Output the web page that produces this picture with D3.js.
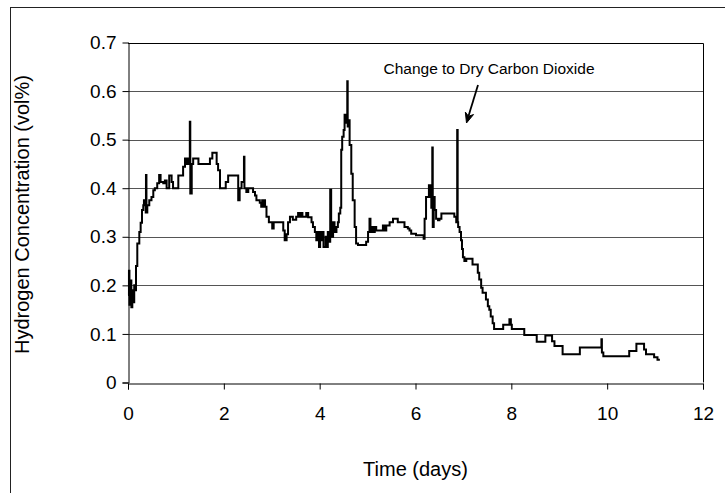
<!DOCTYPE html>
<html>
<head>
<meta charset="utf-8">
<script src="https://cdn.jsdelivr.net/npm/d3@7"></script>
<style>
  html, body { margin: 0; padding: 0; background: #fff; }
  svg { display: block; font-family: "Liberation Sans", Arial, sans-serif; }
</style>
</head>
<body>
<svg id="chart" width="725" height="493"></svg>
<script>
// Elapsed time of each reading (days)
const days = [
  0.00, 0.02, 0.03, 0.05, 0.07, 0.09, 0.11, 0.13, 0.15, 0.167, 0.194, 0.236, 0.264, 0.292, 0.319, 0.333,
  0.37, 0.375, 0.385, 0.403, 0.444, 0.49, 0.528, 0.56, 0.61, 0.65, 0.68, 0.736, 0.77, 0.806, 0.86, 0.91,
  0.94, 1.05, 1.15, 1.19, 1.22, 1.26, 1.29, 1.30, 1.33, 1.36, 1.47, 1.71, 1.76, 1.85, 1.88, 1.92,
  2.04, 2.09, 2.30, 2.33, 2.37, 2.42, 2.43, 2.47, 2.51, 2.61, 2.65, 2.68, 2.75, 2.78, 2.80, 2.82,
  2.84, 2.86, 2.89, 2.94, 3.01, 3.04, 3.24, 3.27, 3.31, 3.34, 3.38, 3.44, 3.51, 3.55, 3.58, 3.61,
  3.64, 3.72, 3.76, 3.83, 3.86, 3.90, 3.93, 3.965, 3.986, 4.01, 4.03, 4.07, 4.08, 4.125, 4.14, 4.17,
  4.19, 4.22, 4.24, 4.26, 4.28, 4.31, 4.35, 4.38, 4.40, 4.43, 4.45, 4.47, 4.50, 4.52, 4.555, 4.576,
  4.585, 4.61, 4.625, 4.66, 4.69, 4.73, 4.76, 4.80, 4.97, 5.01, 5.04, 5.06, 5.09, 5.12, 5.15, 5.18,
  5.25, 5.32, 5.35, 5.39, 5.46, 5.53, 5.63, 5.77, 5.84, 5.875, 5.91, 6.01, 6.17, 6.19, 6.22, 6.28,
  6.31, 6.33, 6.35, 6.36, 6.38, 6.40, 6.43, 6.47, 6.50, 6.54, 6.81, 6.85, 6.87, 6.88, 6.89, 6.92,
  6.95, 6.97, 6.99, 7.02, 7.06, 7.19, 7.30, 7.33, 7.37, 7.40, 7.47, 7.51, 7.54, 7.57, 7.61, 7.64,
  7.83, 7.96, 7.99, 8.01, 8.27, 8.53, 8.71, 8.85, 8.90, 9.07, 9.43, 9.87, 9.88, 9.89, 9.92, 10.46,
  10.61, 10.77, 10.81, 10.98, 11.05, 11.10
];

// Hydrogen concentration at each reading (vol%)
const hydrogen = [
  0.180, 0.230, 0.160, 0.210, 0.155, 0.190, 0.165, 0.200, 0.190, 0.240, 0.286, 0.310, 0.329, 0.355, 0.365, 0.375,
  0.350, 0.427, 0.350, 0.365, 0.375, 0.382, 0.396, 0.400, 0.410, 0.427, 0.413, 0.410, 0.416, 0.400, 0.426, 0.413,
  0.400, 0.426, 0.444, 0.461, 0.450, 0.461, 0.537, 0.389, 0.450, 0.461, 0.450, 0.461, 0.473, 0.450, 0.437, 0.400,
  0.413, 0.426, 0.375, 0.400, 0.413, 0.465, 0.400, 0.392, 0.400, 0.392, 0.385, 0.375, 0.370, 0.362, 0.375, 0.362,
  0.375, 0.362, 0.341, 0.330, 0.317, 0.330, 0.313, 0.293, 0.305, 0.330, 0.341, 0.335, 0.341, 0.349, 0.341, 0.349,
  0.341, 0.349, 0.340, 0.330, 0.320, 0.310, 0.293, 0.310, 0.279, 0.310, 0.293, 0.310, 0.279, 0.300, 0.279, 0.310,
  0.290, 0.397, 0.330, 0.300, 0.330, 0.310, 0.320, 0.330, 0.348, 0.360, 0.479, 0.506, 0.520, 0.551, 0.535, 0.620,
  0.527, 0.540, 0.489, 0.430, 0.375, 0.320, 0.286, 0.283, 0.290, 0.310, 0.337, 0.310, 0.320, 0.310, 0.320, 0.313,
  0.313, 0.323, 0.313, 0.323, 0.330, 0.337, 0.330, 0.320, 0.317, 0.313, 0.306, 0.303, 0.296, 0.337, 0.382, 0.406,
  0.382, 0.360, 0.484, 0.320, 0.382, 0.355, 0.337, 0.334, 0.337, 0.348, 0.341, 0.330, 0.520, 0.330, 0.320, 0.310,
  0.293, 0.275, 0.258, 0.250, 0.255, 0.243, 0.226, 0.212, 0.195, 0.185, 0.171, 0.157, 0.150, 0.136, 0.122, 0.110,
  0.119, 0.130, 0.119, 0.110, 0.098, 0.084, 0.097, 0.085, 0.075, 0.058, 0.072, 0.072, 0.089, 0.062, 0.054, 0.065,
  0.080, 0.068, 0.058, 0.052, 0.047, 0.047
];

const xTicks = [0, 2, 4, 6, 8, 10, 12];
const yTicks = [0, 0.1, 0.2, 0.3, 0.4, 0.5, 0.6, 0.7];
const yTickLabels = ["0", "0.1", "0.2", "0.3", "0.4", "0.5", "0.6", "0.7"];

const xTitle = "Time (days)";
const yTitle = "Hydrogen Concentration (vol%)";
const noteText = "Change to Dry Carbon Dioxide";
const noteAt = [6.87, 0.52];

const svg = d3.select("#chart");
const plot = { left: 128, right: 703, top: 42.5, bottom: 382.5 };

const x = d3.scaleLinear().domain([0, 12]).range([plot.left, plot.right]);
const y = d3.scaleLinear().domain([0, 0.7]).range([plot.bottom, plot.top]);

// Outer chart frame (runs off the right and bottom edges)
svg.append("rect")
  .attr("x", 10.5).attr("y", 7.5)
  .attr("width", 760).attr("height", 520)
  .attr("fill", "none").attr("stroke", "#222").attr("stroke-width", 1);

// Horizontal gridlines
svg.append("g")
  .selectAll("line")
  .data(yTicks.filter(v => v > 0 && v < 0.7))
  .join("line")
  .attr("x1", plot.left).attr("x2", plot.right)
  .attr("y1", d => Math.round(y(d)) + 0.5).attr("y2", d => Math.round(y(d)) + 0.5)
  .attr("stroke", "#555").attr("stroke-width", 1);

// Plot area box: top and right edges
svg.append("path")
  .attr("d", `M${plot.left},${Math.round(plot.top) + 0.5}H${plot.right + 0.5}V${plot.bottom}`)
  .attr("fill", "none").attr("stroke", "#000").attr("stroke-width", 1);

// Axes
const xAxis = d3.axisBottom(x).tickValues(xTicks).tickFormat(d3.format("d"))
  .tickSize(6).tickPadding(17);
const gx = svg.append("g")
  .attr("transform", `translate(0,${Math.round(plot.bottom) + 0.5})`)
  .call(xAxis);

const yAxis = d3.axisLeft(y).tickValues(yTicks)
  .tickFormat((d, i) => yTickLabels[i]).tickSize(6).tickPadding(6);
const gy = svg.append("g")
  .attr("transform", `translate(${plot.left + 0.5},0)`)
  .call(yAxis);

[gx, gy].forEach(g => {
  g.select(".domain").attr("stroke", "#000").attr("stroke-width", 1);
  g.selectAll(".tick line").attr("stroke", "#000");
  g.selectAll(".tick text")
    .attr("fill", "#000")
    .style("font-family", '"Liberation Sans", Arial, sans-serif')
    .style("font-size", "19px");
});
gy.select(".tick:last-of-type line").remove();

// Hydrogen trace (logged values held until the next reading)
const series = days.map((d, i) => [d, hydrogen[i]]);
const line = d3.line()
  .x(d => x(d[0]))
  .y(d => y(d[1]))
  .curve(d3.curveStepAfter);

svg.append("path")
  .datum(series)
  .attr("d", line)
  .attr("fill", "none")
  .attr("stroke", "#000")
  .attr("stroke-width", 2)
  .attr("stroke-linejoin", "miter");

// Axis titles
svg.append("text")
  .attr("x", (plot.left + plot.right) / 2)
  .attr("y", 476)
  .attr("text-anchor", "middle")
  .style("font-size", "20px")
  .text(xTitle);

svg.append("text")
  .attr("transform", `translate(29,${(plot.top + plot.bottom) / 2 + 2}) rotate(-90)`)
  .attr("text-anchor", "middle")
  .style("font-size", "20px")
  .text(yTitle);

// Annotation and arrow
svg.append("text")
  .attr("x", 489)
  .attr("y", 74)
  .attr("text-anchor", "middle")
  .style("font-size", "15.5px")
  .text(noteText);

const tipX = 466.5;
const tipY = 123;
const tailX = 478, tailY = 85;
svg.append("line")
  .attr("x1", tailX).attr("y1", tailY)
  .attr("x2", tipX + 2).attr("y2", tipY - 7)
  .attr("stroke", "#000").attr("stroke-width", 1.8);

const ang = Math.atan2(tipY - tailY, tipX - tailX);
const head = [
  [tipX, tipY],
  [tipX - 11 * Math.cos(ang - 0.4), tipY - 11 * Math.sin(ang - 0.4)],
  [tipX - 7 * Math.cos(ang), tipY - 7 * Math.sin(ang)],
  [tipX - 11 * Math.cos(ang + 0.4), tipY - 11 * Math.sin(ang + 0.4)]
];
svg.append("path")
  .attr("d", d3.line()(head) + "Z")
  .attr("fill", "#000").attr("stroke", "#000").attr("stroke-width", 1);
</script>
</body>
</html>
